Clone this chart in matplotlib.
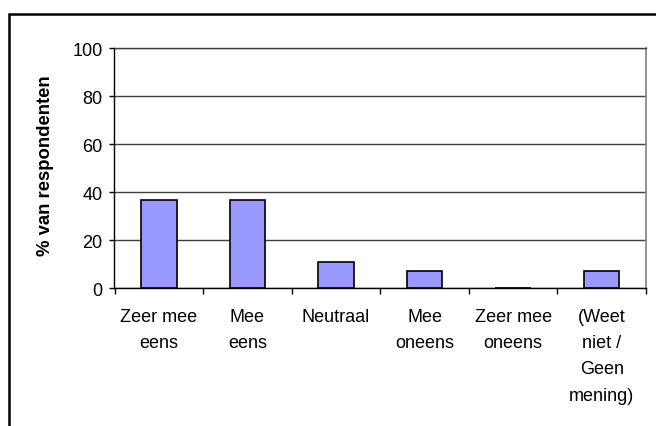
import matplotlib
matplotlib.use("Agg")
import matplotlib.pyplot as plt
from matplotlib.patches import Rectangle
import numpy as np

categories = ["Zeer mee\neens", "Mee\neens", "Neutraal", "Mee\noneens", "Zeer mee\noneens", "(Weet\nniet /\nGeen\nmening)"]
values = [37.0, 37.0, 11.1, 7.4, 0.0, 7.4]
yticks = [0, 20, 40, 60, 80, 100]
ylabel = "% van respondenten"

plt.rcParams['font.family'] = ['Liberation Sans', 'DejaVu Sans']

W, H = 656, 427
fig = plt.figure(figsize=(W / 100, H / 100), dpi=100)
fig.patch.set_facecolor("white")

# outer frame (extends beyond right/bottom edges)
fig.patches.append(Rectangle((9 / W, -0.2), 1.5, 1.2 - 14.5 / H, transform=fig.transFigure,
                             fill=False, edgecolor="black", linewidth=1.8, zorder=0))

left, right = 114.5 / W, 646 / W
top, bottom = 1 - 49.3 / H, 1 - 289.3 / H
ax = fig.add_axes([left, bottom, right - left, top - bottom])

x = np.arange(len(categories))
ax.bar(x, values, width=0.4, color="#9999FF", edgecolor="black", linewidth=1.2, zorder=3)

ax.set_xlim(-0.5, len(categories) - 0.5)
ax.set_ylim(0, 100)
ax.set_yticks(yticks)
ax.set_yticklabels([str(t) for t in yticks], fontsize=13)
ax.yaxis.grid(True, color="#404040", linewidth=1.0, zorder=1)
ax.set_axisbelow(True)

ax.set_xticks(x)
ax.set_xticklabels(categories, fontsize=13, linespacing=1.72, va="top")
ax.tick_params(axis="x", which="major", length=0, pad=14)
ax.set_xticks(np.arange(-0.5, len(categories) + 0.5, 1), minor=True)
ax.tick_params(axis="x", which="minor", length=4.5, width=1.0, color="black", direction="out")
ax.tick_params(axis="y", length=3.5, width=1.0, color="black", pad=5)

for s in ["left", "bottom"]:
    ax.spines[s].set_color("black")
    ax.spines[s].set_linewidth(1.0)
ax.spines["bottom"].set_zorder(4)
ax.spines["top"].set_color("#404040")
ax.spines["top"].set_linewidth(1.0)
ax.spines["right"].set_color("#808080")
ax.spines["right"].set_linewidth(1.2)

ax.set_ylabel(ylabel, fontsize=13.3, fontweight="bold", va="center")
ax.yaxis.set_label_coords((46 - 114.5) / (646 - 114.5), 0.515)

fig.savefig("out.png", dpi=100, facecolor="white")
